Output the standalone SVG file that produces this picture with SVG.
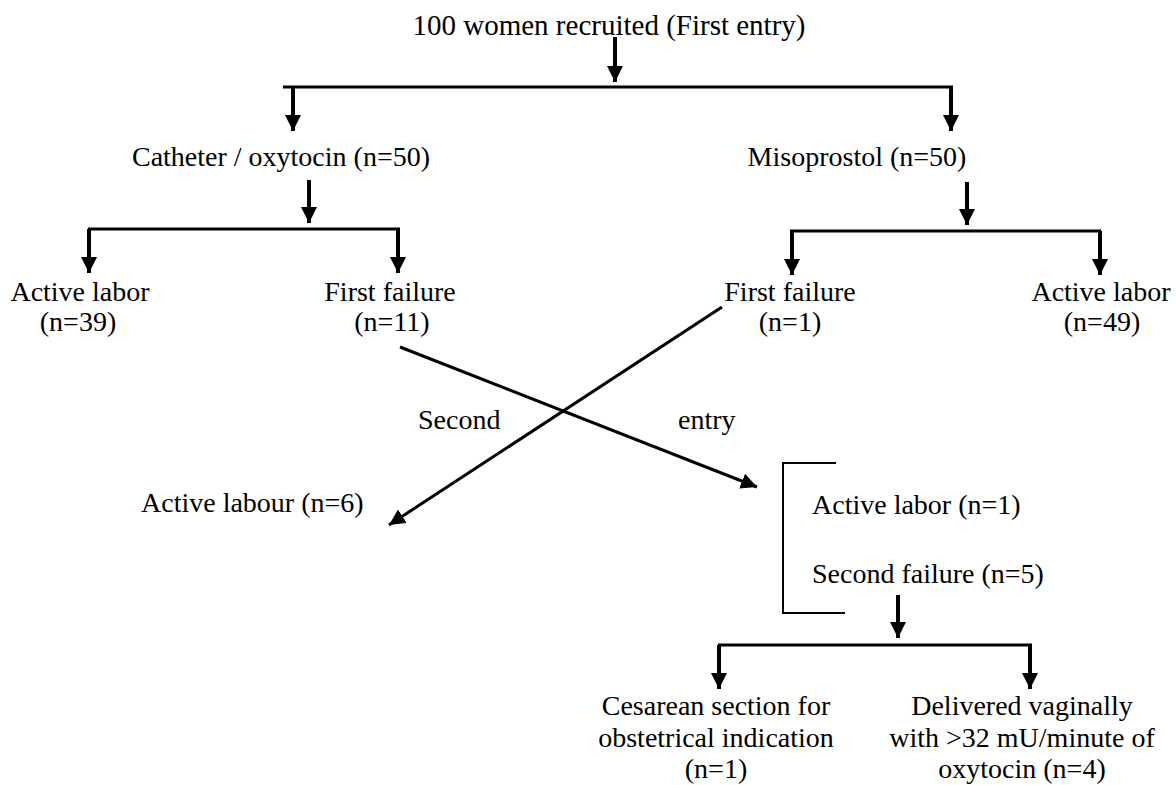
<svg xmlns="http://www.w3.org/2000/svg" width="1176" height="785" viewBox="0 0 1176 785">
<style>
text{font-family:"Liberation Serif","Times New Roman",serif;font-size:28px;fill:#000}
.c{text-anchor:middle}
.t{font-size:29px}
.v{stroke:#000;stroke-width:4;fill:none}
.h{stroke:#000;stroke-width:3;fill:none}
.x{stroke:#000;stroke-width:3;fill:none}
.b{stroke:#000;stroke-width:2;fill:none}
</style>
<defs>
<marker id="ah" markerUnits="userSpaceOnUse" markerWidth="16" markerHeight="16" viewBox="0 0 16 16" refX="16" refY="8" orient="auto">
<path d="M0,0 L16,8 L0,16 Z" fill="#000"/>
</marker>
</defs>
<rect width="1176" height="785" fill="#fff"/>
<g id="connectors">
<line class="v" x1="615" y1="37" x2="615" y2="82" marker-end="url(#ah)"/>
<line class="h" x1="283" y1="87" x2="953" y2="87"/>
<line class="v" x1="293" y1="87" x2="293" y2="131" marker-end="url(#ah)"/>
<line class="v" x1="951" y1="87" x2="951" y2="131" marker-end="url(#ah)"/>
<line class="v" x1="309" y1="180" x2="309" y2="223" marker-end="url(#ah)"/>
<line class="h" x1="88" y1="229" x2="400" y2="229"/>
<line class="v" x1="89" y1="229" x2="89" y2="273" marker-end="url(#ah)"/>
<line class="v" x1="398" y1="229" x2="398" y2="273" marker-end="url(#ah)"/>
<line class="v" x1="967" y1="182" x2="967" y2="225" marker-end="url(#ah)"/>
<line class="h" x1="790" y1="231" x2="1101" y2="231"/>
<line class="v" x1="792" y1="231" x2="792" y2="275" marker-end="url(#ah)"/>
<line class="v" x1="1100" y1="231" x2="1100" y2="275" marker-end="url(#ah)"/>
<line class="x" x1="400" y1="347" x2="757" y2="487" marker-end="url(#ah)"/>
<line class="x" x1="722" y1="307" x2="389" y2="525" marker-end="url(#ah)"/>
<path class="b" d="M836,463 H783 V613 H845"/>
<line class="v" x1="898" y1="595" x2="898" y2="638" marker-end="url(#ah)"/>
<line class="h" x1="718" y1="645" x2="1032" y2="645"/>
<line class="v" x1="719" y1="645" x2="719" y2="689" marker-end="url(#ah)"/>
<line class="v" x1="1030" y1="645" x2="1030" y2="689" marker-end="url(#ah)"/>
</g>
<g id="n-root"><text class="c t" x="609" y="35">100 women recruited (First entry)</text></g>
<g id="n-catheter"><text class="c" x="281" y="166">Catheter / oxytocin (n=50)</text></g>
<g id="n-misoprostol"><text class="c" x="857" y="166">Misoprostol (n=50)</text></g>
<g id="n-active-l"><text class="c" x="80" y="301">Active labor</text><text class="c" x="78" y="331">(n=39)</text></g>
<g id="n-fail-l"><text class="c" x="390" y="301">First failure</text><text class="c" x="392" y="331">(n=11)</text></g>
<g id="n-fail-r"><text class="c" x="790" y="301">First failure</text><text class="c" x="790" y="331">(n=1)</text></g>
<g id="n-active-r"><text class="c" x="1101" y="301">Active labor</text><text class="c" x="1102" y="331">(n=49)</text></g>
<g id="n-second-entry"><text x="418" y="429">Second</text><text x="678" y="429">entry</text></g>
<g id="n-active-6"><text x="141" y="512">Active labour (n=6)</text></g>
<g id="n-bracket"><text x="812" y="514">Active labor (n=1)</text><text x="812" y="583">Second failure (n=5)</text></g>
<g id="n-cesarean"><text class="c" x="716" y="715">Cesarean section for</text><text class="c" x="716" y="747">obstetrical indication</text><text class="c" x="716" y="778">(n=1)</text></g>
<g id="n-vaginal"><text class="c" x="1022" y="715">Delivered vaginally</text><text class="c" x="1022" y="747">with &gt;32 mU/minute of</text><text class="c" x="1022" y="778">oxytocin (n=4)</text></g>
</svg>
